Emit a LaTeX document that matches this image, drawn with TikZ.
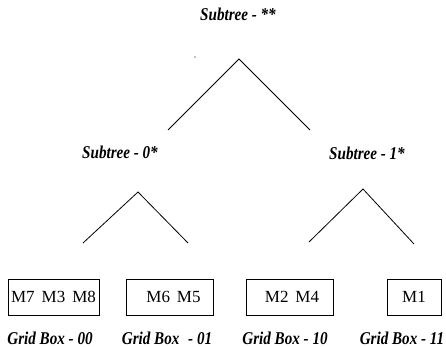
\documentclass[tikz,border=0pt]{standalone}
\usepackage{fontspec}
\setmainfont{Liberation Serif}
\newcommand{\lbltext}[1]{\scalebox{0.84}[1]{#1}}
\newcommand{\gap}{\hspace{7pt}}
\tikzset{
  lbl/.style={inner sep=0pt, font=\fontsize{18}{18}\selectfont\bfseries\itshape},
  gbox/.style={draw, line width=0.8pt, minimum height=36pt, inner sep=0pt, font=\fontsize{17}{17}\selectfont},
  edge/.style={line width=0.8pt}
}
\begin{document}
\begin{tikzpicture}[x=1pt,y=-1pt]
\useasboundingbox (0,0) rectangle (446,347);
% labels
\node[lbl] (ltop) at (238,14) {\lbltext{Subtree - **}};
\node[lbl] (l0) at (120,152) {\lbltext{Subtree - 0*}};
\node[lbl] (l1) at (367,153) {\lbltext{Subtree - 1*}};
% stray dot
\fill (195,57) circle (0.6);
% top tree
\coordinate (a0) at (239,59);
\coordinate (a0l) at (168,130);
\coordinate (a0r) at (310,130);
\draw[edge] (a0l) -- (a0) -- (a0r);
% left subtree
\coordinate (b0) at (138,192);
\coordinate (b0l) at (83,243);
\coordinate (b0r) at (188,243);
\draw[edge] (b0l) -- (b0) -- (b0r);
% right subtree
\coordinate (b1) at (363,189);
\coordinate (b1l) at (309,242);
\coordinate (b1r) at (414,244);
\draw[edge] (b1l) -- (b1) -- (b1r);
% boxes
\node[gbox, minimum width=91pt] (g00) at (53.5,297) {M7\gap M3\gap M8};
\node[gbox, minimum width=87pt] (g01) at (169.5,297) {\hspace{8pt}M6\gap M5};
\node[gbox, minimum width=87pt] (g10) at (289.5,297) {\hspace{5pt}M2\gap M4};
\node[gbox, minimum width=54pt] (g11) at (414,297) {M1};
% grid box labels
\node[lbl] (t00) at (50,338) {\lbltext{Grid Box - 00}};
\node[lbl] (t01) at (167,338) {\lbltext{Grid Box\,\, - 01}};
\node[lbl] (t10) at (285,338) {\lbltext{Grid Box - 10}};
\node[lbl] (t11) at (402,338) {\lbltext{Grid Box - 11}};
\end{tikzpicture}
\end{document}
